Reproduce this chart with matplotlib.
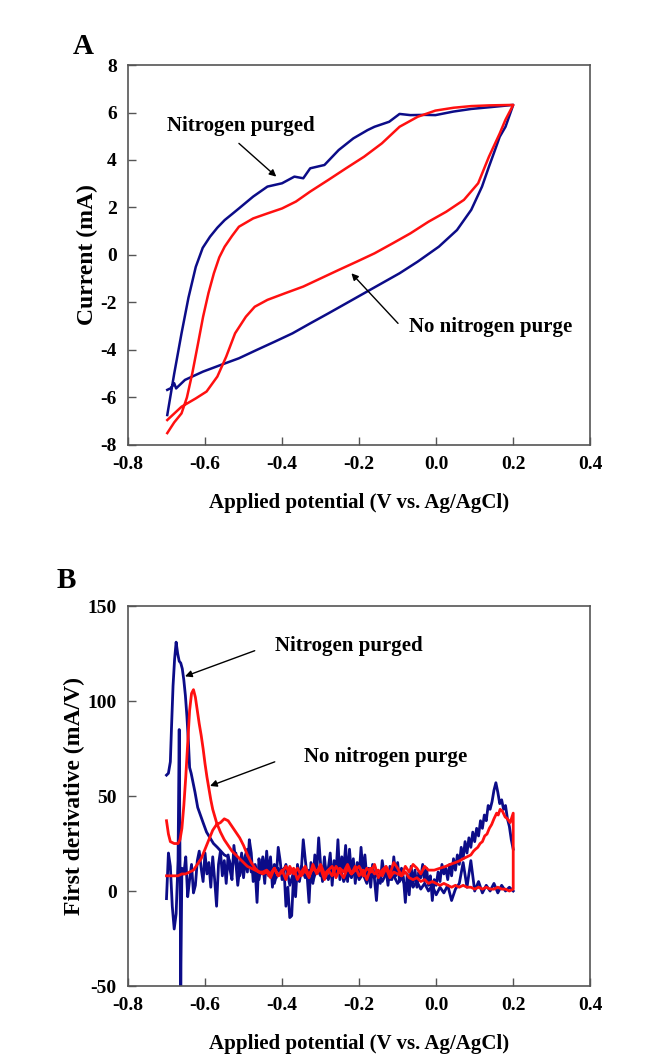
import matplotlib
matplotlib.use("Agg")
import matplotlib.pyplot as plt
import numpy as np

plt.rcParams['font.family'] = ['Liberation Serif', 'DejaVu Serif']
plt.rcParams['font.weight'] = 'bold'

# ---- panel A: cyclic voltammograms (V vs. Ag/AgCl, mA) ----
# nitrogen purged, anodic (upper) then cathodic (lower) branch
a_n2_v = [-0.698, -0.680, -0.661, -0.643, -0.624, -0.606, -0.587, -0.568, -0.549, -0.530,
          -0.512, -0.475, -0.438, -0.400, -0.368, -0.345, -0.327, -0.290, -0.253, -0.215,
          -0.178, -0.160, -0.122, -0.095, -0.067, -0.030, -0.002, 0.045, 0.091, 0.137, 0.200,
          0.180, 0.165, 0.150, 0.137, 0.119, 0.091, 0.054, 0.007, -0.048, -0.095, -0.141,
          -0.187, -0.234, -0.280, -0.327, -0.373, -0.419, -0.466, -0.512, -0.559, -0.605,
          -0.652, -0.670, -0.675, -0.680, -0.689, -0.698]
a_n2_i = [-6.74, -5.00, -3.30, -1.80, -0.50, 0.30, 0.77, 1.15, 1.47, 1.72,
          1.96, 2.46, 2.88, 3.02, 3.30, 3.23, 3.65, 3.79, 4.42, 4.91,
          5.26, 5.40, 5.61, 5.94, 5.89, 5.90, 5.89, 6.04, 6.15, 6.22, 6.32,
          5.40, 4.98, 4.30, 3.72, 2.88, 1.90, 1.05, 0.35, -0.28, -0.77, -1.19,
          -1.61, -2.04, -2.46, -2.88, -3.30, -3.65, -4.00, -4.35, -4.63, -4.91,
          -5.26, -5.54, -5.62, -5.40, -5.61, -5.68]

# no nitrogen purge
a_air_v = [-0.698, -0.680, -0.661, -0.647, -0.633, -0.619, -0.605, -0.591, -0.577, -0.563,
           -0.549, -0.530, -0.512, -0.475, -0.438, -0.400, -0.364, -0.327, -0.280, -0.234,
           -0.187, -0.141, -0.095, -0.048, -0.002, 0.045, 0.091, 0.137, 0.200,
           0.180, 0.165, 0.137, 0.109, 0.072, 0.026, -0.020, -0.067, -0.113, -0.160, -0.206,
           -0.253, -0.299, -0.345, -0.392, -0.438, -0.471, -0.494, -0.522, -0.545, -0.568,
           -0.596, -0.624, -0.661, -0.698]
a_air_i = [-7.50, -7.05, -6.67, -6.00, -4.98, -3.80, -2.60, -1.60, -0.77, -0.10,
           0.35, 0.80, 1.19, 1.54, 1.75, 1.96, 2.25, 2.67, 3.16, 3.65,
           4.14, 4.70, 5.40, 5.82, 6.08, 6.20, 6.27, 6.30, 6.32,
           5.70, 5.12, 4.14, 3.02, 2.32, 1.82, 1.40, 0.91, 0.49, 0.07, -0.28,
           -0.63, -0.98, -1.33, -1.61, -1.89, -2.18, -2.60, -3.30, -4.28, -5.12,
           -5.75, -6.04, -6.39, -6.95]

# ---- panel B: first derivative (mA/V) ----
# nitrogen purged, anodic sweep: peak region then noisy tail
b_n2_fwd_v = [-0.700, -0.695, -0.690, -0.687, -0.683, -0.679, -0.675, -0.671, -0.667, -0.663,
              -0.659, -0.655, -0.651, -0.647, -0.643, -0.640, -0.636, -0.632, -0.626, -0.619,
              -0.612, -0.605, -0.596, -0.587, -0.578, -0.568, -0.559, -0.550]
b_n2_fwd_d = [61, 62, 68, 86, 108, 122, 131, 125, 121, 120,
              117, 111, 103, 92, 78, 65, 62, 58, 52, 44,
              40, 36, 31, 28, 25, 23, 21, 19]
b_n2_fwd_tail = [18, 12, 20, 8, 16, 22, 10, 14, 6, 18,
                 9, 15, 4, 12, 8, 14, 3, 10, 6, 13,
                 7, 11, 5, 12, 8, 14, 6, 11, 9, 13,
                 5, 10, 7, 12, 6, 9, 4, 11, 7, 10,
                 5, 9, 6, 8, 4, 7, 3, 6, 2, 5,
                 1, 4, 0, 3, -2, 2, -1, 3, -5, 1,
                 4, 15, 2, 16, 0, 5, -1, 3, 0, 4,
                 -1, 3, 0, 2, 0]          # -0.54 ... 0.20, step 0.01

# nitrogen purged, cathodic sweep (0.2 -> -0.7)
b_n2_rev_head = [22, 27, 34, 38, 45, 43, 48, 46, 52, 57,
                 53, 47, 43, 45, 37, 40, 33, 37, 29, 33,
                 26, 31, 23, 28, 20, 26, 17, 23, 14, 19,
                 11, 17, 8, 14, 6, 12, 9, 14, 5, 10, 3]   # 0.200 ... 0.000, step 0.005
b_n2_rev_mid = [6, -5, 8, 3, 12, 5, 14, 7, 10, 2,
                11, 4, 13, -2, 9, -6, 7, 12, 5, 15,
                8, 18, 6, 13, 3, 11, 9, 16, 4, 10,
                -5, 6, 14, 2, 12, 7, 19, 10, 23, 8,
                15, 4, 17, 9, 22, 5, 24, 11, 18, 6,
                27, 9, 16, 3, 20, 12, 7, 18, 5, 14,
                28, 10, 19, 4, 15, -6, 8, 17, 27, 11,
                5, 14, -3, 9, -13, -14, 2, -8, 12, 6,
                16, 23, 7, 14, 2, 18, 8, 21, 4, 15,
                9, 17, -6, 12, 5, 20, 27, 10, 18, 7,
                20, 12, 3, 15, 24, 6, 11, 19, 4, 16,
                8, 21, 14, -8, 6, 18, 2, 15, 9, 20,
                5, 12, 21, 16, 3, -1, 14, 6, -3, 18]   # -0.005 ... -0.650, step 0.005
b_n2_rev_end_v = [-0.655, -0.660, -0.663, -0.667, -0.670, -0.675, -0.680, -0.685, -0.690, -0.695, -0.700]
b_n2_rev_end_d = [9, 12, -50, 85, 16, -12, -20, -8, 13, 20, -4]

# no nitrogen purge, anodic sweep
b_air_fwd_v = [-0.700, -0.695, -0.690, -0.680, -0.670, -0.665, -0.660, -0.655, -0.650, -0.645,
               -0.640, -0.635, -0.630, -0.625, -0.620, -0.615, -0.610, -0.605, -0.600, -0.595,
               -0.590, -0.585, -0.580, -0.570, -0.560, -0.550, -0.540, -0.530, -0.520, -0.510,
               -0.500, -0.490, -0.480, -0.470, -0.460, -0.450]
b_air_fwd_d = [37, 30, 26, 25, 25, 27, 33, 45, 60, 78,
               95, 104, 106, 102, 95, 88, 82, 75, 67, 60,
               54, 48, 43, 36, 31, 27, 24, 21, 19, 17,
               15, 13, 12, 11, 10, 9]
b_air_fwd_tail = [10, 7, 12, 8, 11, 6, 13, 9, 12, 8,
                  11, 7, 14, 9, 12, 6, 11, 8, 13, 10,
                  7, 12, 9, 13, 8, 11, 6, 12, 9, 11,
                  8, 12, 7, 10, 9, 8, 10, 7, 6, 7,
                  5, 6, 4, 5, 4, 3, 4, 3, 2, 3,
                  2, 3, 2, 2, 1, 2, 1, 2, 1, 1,
                  2, 1, 1, 0, 1]          # -0.44 ... 0.20, step 0.01

# no nitrogen purge, cathodic sweep
b_air_rev_v = [0.200, 0.192, 0.185, 0.179, 0.172, 0.166, 0.161, 0.157, 0.150, 0.144,
               0.138, 0.132, 0.126, 0.120, 0.114, 0.108, 0.102, 0.097, 0.090, 0.080,
               0.070, 0.062, 0.050, 0.036, 0.025, 0.010, -0.005]
b_air_rev_d = [41, 36, 38, 39, 42, 43, 40, 41, 38, 35,
               33, 30, 29, 26, 25, 23, 22, 21, 19, 18,
               17, 16, 15, 14, 13, 12, 11]
b_air_rev_mid = [11, 13, 9, 12, 14, 10, 13, 8, 12, 15,
                 9, 13, 11, 7, 14, 10, 12, 8, 13, 11,
                 9, 14, 10, 12, 7, 13, 11, 9, 14, 10,
                 12, 8, 13, 10, 6, 12, 9, 13, 10, 8,
                 12, 9, 11, 10]           # -0.02 ... -0.45, step 0.01
b_air_rev_bump = [10, 12, 15, 19, 24, 28, 31, 34, 37, 38,
                  36, 35, 32, 27, 22, 17, 14, 11, 10, 9,
                  9, 8, 8, 8, 8]          # -0.46 ... -0.70, step 0.01

blue = '#0c0c88'
red = '#ff1010'


def style(ax):
    ax.set_xlim(-0.8, 0.4)
    ax.set_xticks([-0.8, -0.6, -0.4, -0.2, 0.0, 0.2, 0.4])
    ax.set_xticklabels(['-0.8', '-0.6', '-0.4', '-0.2', '0.0', '0.2', '0.4'])
    ax.tick_params(direction='in', length=6, width=1, labelsize=14, pad=8, color='#555555')
    for s in ax.spines.values():
        s.set_color('#555555')
        s.set_linewidth(1.2)
    for lab in ax.get_xticklabels() + ax.get_yticklabels():
        lab.set_fontweight('bold')
    ax.set_xlabel('Applied potential (V vs. Ag/AgCl)', fontsize=15, fontweight='bold', labelpad=14)


def label(ax, text, pos, tail, head):
    ax.text(pos[0], pos[1], text, fontsize=15, fontweight='bold', ha='center', va='center')
    ax.annotate('', xy=head, xytext=tail,
                arrowprops=dict(arrowstyle='-|>', color='black', lw=1, shrinkA=0, shrinkB=0,
                                mutation_scale=10))


fig = plt.figure(figsize=(6.7, 10.64), dpi=100)
fig.patch.set_facecolor('white')

# panel A
ax1 = fig.add_axes([0.191, 0.5818, 0.690, 0.3571])
ax1.plot(a_n2_v, a_n2_i, color=blue, lw=1.8)
ax1.plot(a_air_v, a_air_i, color=red, lw=1.8)
ax1.set_ylim(-8, 8)
ax1.set_yticks(range(-8, 9, 2))
ax1.set_yticklabels([str(t) for t in range(-8, 9, 2)])
style(ax1)
ax1.set_ylabel('Current (mA)', fontsize=17, fontweight='bold', labelpad=2)
label(ax1, 'Nitrogen purged', (-0.506, 5.43), (-0.512, 4.7), (-0.415, 3.3))
label(ax1, 'No nitrogen purge', (0.142, -3.05), (-0.099, -2.88), (-0.22, -0.77))
fig.text(83 / 670, 1 - 47 / 1064, 'A', fontsize=21, fontweight='bold', ha='center', va='center')

# panel B
ax2 = fig.add_axes([0.191, 0.0733, 0.690, 0.3571])
n2_fwd_v = list(b_n2_fwd_v) + list(np.linspace(-0.54, 0.20, len(b_n2_fwd_tail)))
n2_fwd_d = b_n2_fwd_d + b_n2_fwd_tail
n2_rev_v = (list(np.linspace(0.20, 0.0, len(b_n2_rev_head)))
            + list(np.linspace(-0.005, -0.65, len(b_n2_rev_mid))) + b_n2_rev_end_v)
n2_rev_d = b_n2_rev_head + b_n2_rev_mid + b_n2_rev_end_d
air_v = (b_air_fwd_v + list(np.linspace(-0.44, 0.20, len(b_air_fwd_tail)))
         + b_air_rev_v + list(np.linspace(-0.02, -0.45, len(b_air_rev_mid)))
         + list(np.linspace(-0.46, -0.70, len(b_air_rev_bump))))
air_d = b_air_fwd_d + b_air_fwd_tail + b_air_rev_d + b_air_rev_mid + b_air_rev_bump

ax2.plot(n2_rev_v, n2_rev_d, color=blue, lw=2)
ax2.plot(n2_fwd_v, n2_fwd_d, color=blue, lw=2)
ax2.plot(air_v, air_d, color=red, lw=2)
ax2.set_ylim(-50, 150)
ax2.set_yticks([-50, 0, 50, 100, 150])
ax2.set_yticklabels(['-50', '0', '50', '100', '150'])
style(ax2)
ax2.set_ylabel('First derivative (mA/V)', fontsize=17, fontweight='bold', labelpad=2)
label(ax2, 'Nitrogen purged', (-0.228, 129), (-0.471, 126.5), (-0.652, 113))
label(ax2, 'No nitrogen purge', (-0.132, 70.7), (-0.419, 68), (-0.587, 55.3))
fig.text(66 / 670, 1 - 580 / 1064, 'B', fontsize=21, fontweight='bold', ha='center', va='center')

fig.savefig('out.png', dpi=100)
